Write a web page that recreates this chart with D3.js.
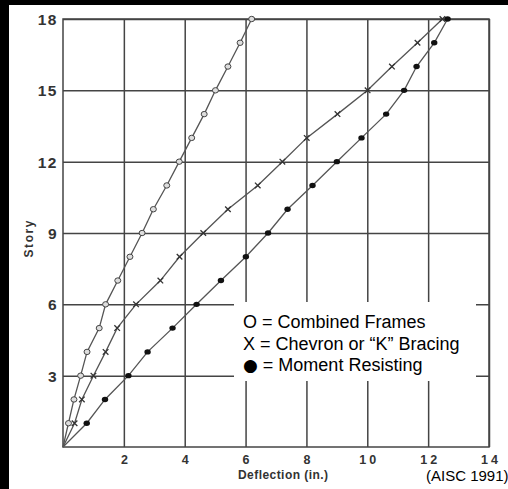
<!DOCTYPE html>
<html><head><meta charset="utf-8">
<script src="https://cdn.jsdelivr.net/npm/d3@7"></script>
<style>html,body{margin:0;padding:0;background:#000;overflow:hidden}svg{display:block}</style>
</head><body><svg id="c" width="508" height="489"></svg>
<script>
const stories = [0,1,2,3,4,5,6,7,8,9,10,11,12,13,14,15,16,17,18];
const combinedFrames = [0,0.18,0.36,0.58,0.79,1.19,1.40,1.80,2.20,2.60,2.97,3.41,3.82,4.23,4.64,5.01,5.42,5.82,6.20];
const chevronBracing = [0,0.38,0.62,1.00,1.40,1.78,2.40,3.20,3.83,4.61,5.42,6.40,7.21,8.01,9.02,10.01,10.81,11.65,12.47];
const momentResisting = [0,0.78,1.38,2.15,2.78,3.60,4.39,5.19,6.01,6.74,7.38,8.20,9.00,9.81,10.62,11.21,11.62,12.20,12.64];
const xTicks = [2,4,6,8,10,12,14];
const yTicks = [3,6,9,12,15,18];
const legendSymbols = ["O", "X", "\u25CF"];
const legendLabels = [" = Combined Frames", " = Chevron or \u201CK\u201D Bracing", " = Moment Resisting"];
const xTitle = "Deflection (in.)";
const yTitle = "Story";
const sourceNote = "(AISC 1991)";

const svg = d3.select("#c");
svg.append("rect").attr("x",9).attr("y",5).attr("width",499).attr("height",484).attr("fill","#fff");

const x = d3.scaleLinear().domain([0,14]).range([63,489]);
const y = d3.scaleLinear().domain([0,18]).range([447,19]);
const gridCol = "#444";
const tickFont = "'Liberation Sans', Arial, sans-serif";

// x axis with vertical gridlines
const gx = svg.append("g").attr("transform",`translate(0,${y(0)})`)
  .call(d3.axisBottom(x).tickValues(xTicks).tickSize(-(y(0)-y(18))).tickSizeOuter(0));
gx.select(".domain").remove();
gx.selectAll(".tick line").attr("stroke",gridCol).attr("stroke-width",1.5);
gx.selectAll(".tick text").attr("y",17).attr("dy",0).attr("dx",1.5)
  .attr("font-family",tickFont).attr("font-size",12.5).attr("font-weight","bold")
  .attr("fill","#333").style("letter-spacing","3px");

// y axis with horizontal gridlines
const gy = svg.append("g").attr("transform",`translate(${x(0)},0)`)
  .call(d3.axisLeft(y).tickValues(yTicks).tickSize(-(x(14)-x(0))).tickSizeOuter(0));
gy.select(".domain").remove();
gy.selectAll(".tick line").attr("stroke",gridCol).attr("stroke-width",1.5);
gy.selectAll(".tick text").attr("x",-5).attr("dy","0.36em")
  .attr("font-family",tickFont).attr("font-size",15.5).attr("font-weight","bold")
  .attr("fill","#333").style("letter-spacing","1.5px");

// plot border
svg.append("rect").attr("x",x(0)).attr("y",y(18)).attr("width",x(14)-x(0)).attr("height",y(0)-y(18))
  .attr("fill","none").attr("stroke",gridCol).attr("stroke-width",1.5);

// series
const series = [
  {name:"combined", vals:combinedFrames},
  {name:"chevron", vals:chevronBracing},
  {name:"moment", vals:momentResisting}
];
const line = d3.line().x(d=>x(d[0])).y(d=>y(d[1]));
series.forEach(s=>{
  const pts = s.vals.map((v,i)=>[v,stories[i]]);
  svg.append("path").datum(pts).attr("d",line).attr("fill","none")
    .attr("stroke","#555").attr("stroke-width",1.3);
  const mk = svg.append("g").selectAll("g").data(pts.slice(1)).join("g")
    .attr("transform",d=>`translate(${x(d[0])},${y(d[1])})`);
  if (s.name==="combined") {
    mk.append("ellipse").attr("rx",3).attr("ry",2.7).attr("fill","#ddd").attr("stroke","#444").attr("stroke-width",1);
  } else if (s.name==="chevron") {
    mk.append("path").attr("d","M-2.8,-2.8L2.8,2.8M-2.8,2.8L2.8,-2.8").attr("stroke","#333").attr("stroke-width",1.3);
  } else {
    mk.append("ellipse").attr("rx",3.2).attr("ry",2.7).attr("fill","#111");
  }
});

// legend
svg.append("rect").attr("x",234).attr("y",302).attr("width",242).attr("height",79).attr("fill","#fff");
const legY = [328, 349.5, 371];
const lt = svg.append("g").selectAll("text").data(legendLabels).join("text")
  .attr("x",243).attr("y",(d,i)=>legY[i])
  .attr("font-family","'Liberation Sans', Arial, sans-serif")
  .attr("font-size",18).attr("fill","#000");
lt.append("tspan").text((d,i)=>legendSymbols[i])
  .attr("font-family",(d,i)=>i===2?"'DejaVu Sans', sans-serif":null)
  .attr("font-size",(d,i)=>i===2?17:null);
lt.append("tspan").text(d=>d);

// titles
svg.append("text").attr("x",283).attr("y",479).attr("text-anchor","middle")
  .attr("font-family",tickFont).attr("font-size",12).attr("font-weight","bold").attr("fill","#333")
  .attr("textLength",90).attr("lengthAdjust","spacing").text(xTitle);
svg.append("text").attr("transform","translate(33,239) rotate(-90)").attr("text-anchor","middle")
  .attr("font-family",tickFont).attr("font-size",12).attr("font-weight","bold").attr("fill","#333")
  .attr("textLength",37).attr("lengthAdjust","spacing").text(yTitle);
svg.append("text").attr("x",426).attr("y",481)
  .attr("font-family","'Liberation Sans', Arial, sans-serif").attr("font-size",15).attr("fill","#000")
  .text(sourceNote);
</script></body></html>
